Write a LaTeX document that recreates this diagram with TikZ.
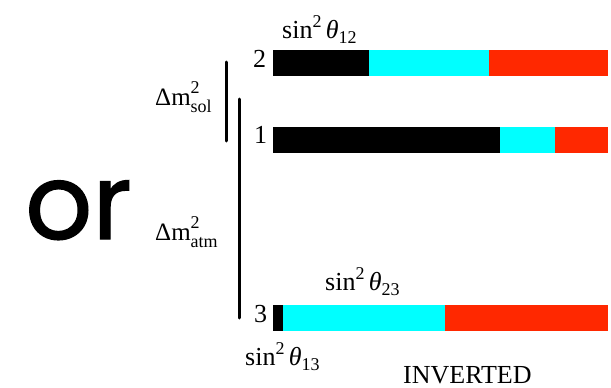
\documentclass[tikz,border=0pt]{standalone}
\usepackage{fontspec}
\setmainfont{Liberation Serif}
\newfontfamily\orfont[FakeBold=1.2]{Poppins}
\definecolor{barcyan}{RGB}{0,255,255}
\definecolor{barred}{RGB}{255,40,0}
\tikzset{
  lbl/.style={inner sep=0pt, anchor=base west, font=\fontsize{26}{26}\selectfont},
  dig/.style={inner sep=0pt, anchor=base west, font=\fontsize{26}{26}\selectfont},
  dm/.style={inner sep=0pt, anchor=base west, font=\fontsize{25}{25}\selectfont},
  level/.style={line width=3pt, line cap=round},
}
\newcommand\sinlab[1]{sin\raisebox{0.42em}{\fontsize{18}{18}\selectfont 2}\,\textit{θ}\raisebox{-0.22em}{\fontsize{18}{18}\selectfont #1}}
\newcommand\dmlab[1]{Δm\rlap{\raisebox{0.45em}{\fontsize{18}{18}\selectfont 2}}\raisebox{-0.3em}{\fontsize{18}{18}\selectfont #1}}
\begin{document}
\begin{tikzpicture}[x=1pt,y=-1pt]
\useasboundingbox (0,0) rectangle (611,388);
% bars
\fill[black]   (273,50) rectangle (369,76);
\fill[barcyan] (369,50) rectangle (489,76);
\fill[barred]  (489,50) rectangle (608,76);
\fill[black]   (273,127) rectangle (500,153);
\fill[barcyan] (500,127) rectangle (555,153);
\fill[barred]  (555,127) rectangle (608,153);
\fill[black]   (273,305) rectangle (283,331);
\fill[barcyan] (283,305) rectangle (445,331);
\fill[barred]  (445,305) rectangle (608,331);
% splitting lines
\coordinate (soltop) at (226,62);
\coordinate (solbot) at (226,141);
\coordinate (atmtop) at (239,99);
\coordinate (atmbot) at (239,318);
\draw[level] (soltop) -- (solbot);
\draw[level] (atmtop) -- (atmbot);
% labels
\node[dig] (n2) at (253,67) {2};
\node[dig] (n1) at (254,143) {1};
\node[dig] (n3) at (254,322) {3};
\node[lbl] (s12) at (282,38) {\sinlab{12}};
\node[lbl] (s23) at (325,290) {\sinlab{23}};
\node[lbl] (s13) at (245,365) {\sinlab{13}};
\node[dm] (dsol) at (155,105) {\dmlab{sol}};
\node[dm] (datm) at (155,240) {\dmlab{atm}};
\node[lbl, font=\fontsize{26}{26}\selectfont] (inv) at (403,383) {INVERTED};
\node[inner sep=0pt, anchor=base west, font=\orfont\fontsize{105}{105}\selectfont] (or) at (25,239) {or};
\end{tikzpicture}
\end{document}
